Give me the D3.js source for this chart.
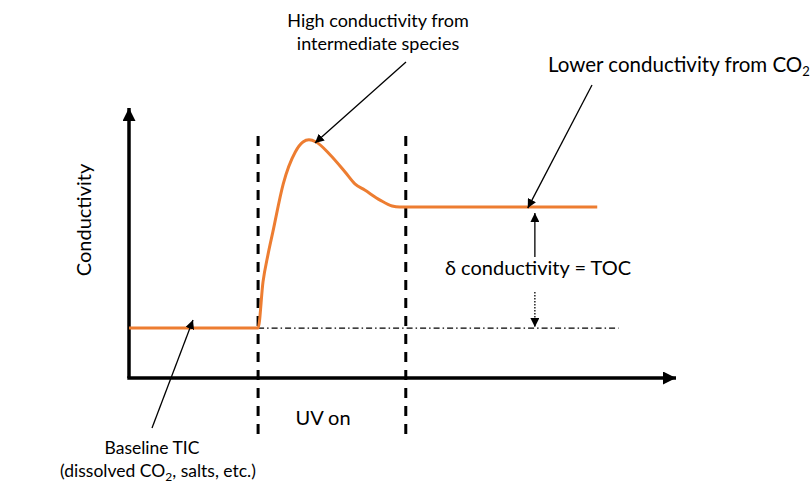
<!DOCTYPE html>
<html>
<head>
<meta charset="utf-8">
<script src="https://cdn.jsdelivr.net/npm/d3@7"></script>
<style>
  html, body { margin: 0; padding: 0; background: #fff; }
  svg { display: block; font-family: Lato, "Open Sans", sans-serif; }
</style>
</head>
<body>
<div id="chart"></div>
<script>
// conductivity trace (arbitrary units, time 0-100)
const time = [0, 23.6, 24.5, 25.4, 26.3, 28.2, 30.4, 31.8, 32.9, 34.2, 36.8, 39.5, 41.3, 43.1, 45.9, 48.1, 49.5, 85.6];
const conductivity = [18.5, 18.5, 35.6, 45.6, 54.1, 71.9, 83.7, 87.4, 88.2, 87.4, 82.6, 76.3, 71.9, 69.6, 65.9, 63.7, 63.3, 63.3];

const uvOn = 23.6;
const uvOff = 50.6;
const baseline = 18.5;
const plateau = 63.3;

const width = 812, height = 487;
const orange = "#ed7d31";

const svg = d3.select("#chart").append("svg")
    .attr("width", width)
    .attr("height", height);

const x = d3.scaleLinear().domain([0, 100]).range([129, 676]);
const y = d3.scaleLinear().domain([0, 100]).range([378, 108]);

const defs = svg.append("defs");
function marker(id, size) {
    defs.append("marker")
        .attr("id", id)
        .attr("viewBox", "0 0 10 10")
        .attr("refX", 10).attr("refY", 5)
        .attr("markerWidth", size).attr("markerHeight", size)
        .attr("markerUnits", "userSpaceOnUse")
        .attr("orient", "auto")
        .append("path")
        .attr("d", "M0,0 L10,5 L0,10 z")
        .attr("fill", "#000");
}
marker("axisHead", 13);
marker("head", 9);

// axes
svg.append("line")
    .attr("x1", x(0)).attr("y1", y(0))
    .attr("x2", x(0)).attr("y2", y(100))
    .attr("stroke", "#000").attr("stroke-width", 3.5)
    .attr("marker-end", "url(#axisHead)");
svg.append("line")
    .attr("x1", x(0) - 1.7).attr("y1", y(0))
    .attr("x2", x(100)).attr("y2", y(0))
    .attr("stroke", "#000").attr("stroke-width", 3.5)
    .attr("marker-end", "url(#axisHead)");

// UV on / off markers
svg.selectAll(".uv").data([uvOn, uvOff]).enter().append("line")
    .attr("x1", d => x(d)).attr("x2", d => x(d))
    .attr("y1", 136).attr("y2", 436)
    .attr("stroke", "#000").attr("stroke-width", 3)
    .attr("stroke-dasharray", "10,8");

// baseline reference (dash-dot)
svg.append("line")
    .attr("x1", x(uvOn)).attr("x2", x(89.5))
    .attr("y1", y(baseline)).attr("y2", y(baseline))
    .attr("stroke", "#000").attr("stroke-width", 1.2)
    .attr("stroke-dasharray", "6,3,1.5,3");

// trace
const line = d3.line()
    .x((d, i) => x(time[i]))
    .y(d => y(d))
    .curve(d3.curveMonotoneX);
svg.append("path")
    .datum(conductivity)
    .attr("d", line)
    .attr("fill", "none")
    .attr("stroke", orange)
    .attr("stroke-width", 3);

// delta arrows
const dx = x(74.2);
svg.append("line")
    .attr("x1", dx).attr("x2", dx)
    .attr("y1", 257).attr("y2", y(plateau) + 6)
    .attr("stroke", "#000").attr("stroke-width", 1.3)
    .attr("marker-end", "url(#head)");
svg.append("line")
    .attr("x1", dx).attr("x2", dx)
    .attr("y1", 292).attr("y2", y(baseline) - 1)
    .attr("stroke", "#000").attr("stroke-width", 1.3)
    .attr("stroke-dasharray", "1.5,1.5")
    .attr("marker-end", "url(#head)");

// annotation arrows
function arrow(x1, y1, x2, y2) {
    svg.append("line")
        .attr("x1", x1).attr("y1", y1)
        .attr("x2", x2).attr("y2", y2)
        .attr("stroke", "#000").attr("stroke-width", 1.3)
        .attr("marker-end", "url(#head)");
}
arrow(406, 62, x(34.0), y(87.0));
arrow(592, 85, x(72.9), y(plateau) + 1);
arrow(152, 428, x(11.7), y(baseline) - 8);

// text
function label(t, tx, ty, size, anchor) {
    return svg.append("text")
        .attr("x", tx).attr("y", ty)
        .attr("font-size", size)
        .attr("text-anchor", anchor || "middle")
        .attr("fill", "#000")
        .text(t);
}
label("High conductivity from", 378, 27, 18);
label("intermediate species", 378, 50, 18);

const low = label("Lower conductivity from CO", 548, 72, 20.5, "start");
low.append("tspan").attr("font-size", 13).attr("dy", 4).text("2");

label("\u03b4 conductivity = TOC", 538, 275, 20);
label("UV on", 323, 425, 20);
label("Baseline TIC", 152, 454, 17.5);
const diss = label("(dissolved CO", 158, 477, 17.5);
diss.append("tspan").attr("font-size", 12).attr("dy", 4).text("2");
diss.append("tspan").attr("dy", -4).text(", salts, etc.)");

svg.append("text")
    .attr("transform", "translate(91,220) rotate(-90)")
    .attr("font-size", 20)
    .attr("text-anchor", "middle")
    .text("Conductivity");
</script>
</body>
</html>
